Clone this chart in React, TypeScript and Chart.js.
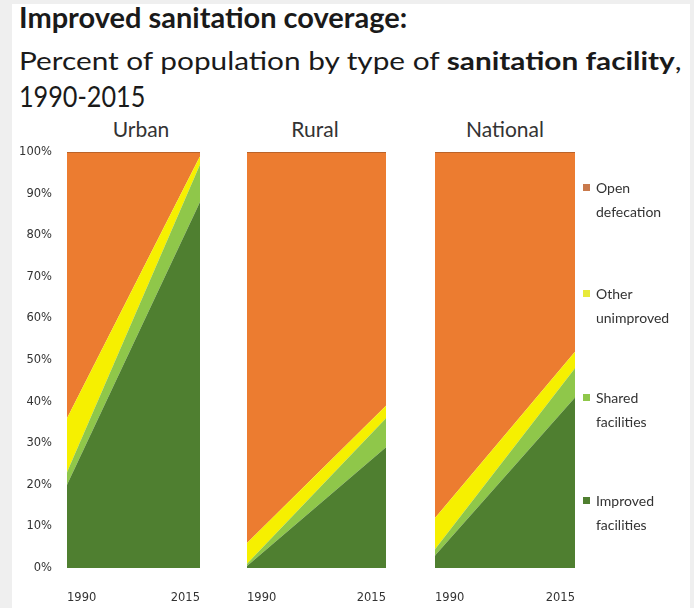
import React, { useEffect, useRef } from "react";
import { Chart, registerables } from "chart.js";

Chart.register(...registerables);

const panels = ["Urban", "Rural", "National"];
const years = ["1990", "2015"];
const seriesNames = ["Improved facilities", "Shared facilities", "Other unimproved", "Open defecation"];
const legendLines = [["Open", "defecation"], ["Other", "unimproved"], ["Shared", "facilities"], ["Improved", "facilities"]];
const improved = [[20, 88], [0.5, 29], [3, 41]];
const shared = [[3, 9], [0.5, 7], [1.5, 7]];
const otherUnimproved = [[13, 2], [5, 3], [7.5, 4]];
const openDefecation = [[64, 1], [94, 61], [88, 48]];
const yTicks = [0, 10, 20, 30, 40, 50, 60, 70, 80, 90, 100];

const colors = ["#4f7f30", "#8fc74a", "#f6f000", "#ec7c30"];
const legendColors = ["#c97a4c", "#e8ea3a", "#8fc74a", "#4f7f30"];
const FONT = "Lato, 'Open Sans', sans-serif";
const TICK_FONT = "'DejaVu Sans', sans-serif";

type PanelProps = { idx: number; left: number; width: number; padL: number; padR: number; showY: boolean };

function Panel({ idx, left, width, padL, padR, showY }: PanelProps) {
  const ref = useRef<HTMLCanvasElement | null>(null);
  useEffect(() => {
    if (!ref.current) return;
    const seriesData = [improved[idx], shared[idx], otherUnimproved[idx], openDefecation[idx]];
    const chart = new Chart(ref.current, {
      type: "line",
      data: {
        labels: years,
        datasets: seriesData.map((d, i) => ({
          label: seriesNames[i],
          data: d,
          backgroundColor: colors[i],
          borderColor: i === 3 ? "#8a4a22" : colors[i],
          borderWidth: i === 3 ? 1 : 0,
          pointRadius: 0,
          fill: i === 0 ? "origin" : "-1",
          tension: 0,
        })),
      },
      options: {
        animation: false,
        responsive: false,
        maintainAspectRatio: false,
        layout: { padding: { left: padL, right: padR, top: 12, bottom: 0 } },
        plugins: { legend: { display: false }, tooltip: { enabled: false }, title: { display: false } },
        scales: {
          x: {
            type: "category",
            offset: false,
            grid: { display: false, drawTicks: false },
            border: { display: false },
            afterFit: (s: any) => {
              s.height = 40;
              s.paddingLeft = 0;
              s.paddingRight = 0;
            },
            ticks: { align: "inner", padding: 23, color: "#333", font: { family: TICK_FONT, size: 11.5 }, maxRotation: 0 },
          },
          y: {
            stacked: true,
            display: showY,
            min: 0,
            max: 100,
            grid: { display: false, drawTicks: false },
            border: { display: false },
            afterFit: (s: any) => {
              if (showY) s.width = 67;
              s.paddingTop = 0;
              s.paddingBottom = 0;
            },
            afterBuildTicks: (s: any) => { s.ticks = yTicks.map((v) => ({ value: v })); },
            ticks: {
              padding: 15,
              color: "#333",
              font: { family: TICK_FONT, size: 11.5 },
              callback: (v: any) => v + "%",
            },
          },
        },
      },
    });
    return () => chart.destroy();
  }, [idx, padL, padR, showY]);
  return (
    <canvas
      ref={ref}
      width={width}
      height={468}
      style={{ position: "absolute", left, top: 140, width, height: 468 }}
    />
  );
}

const panelCenters = [141, 315, 505];
const legendTops = [176, 282, 386, 489];

const titleStyle = (top: number, size: number, scale: number): React.CSSProperties => ({
  position: "absolute",
  left: 19,
  top,
  fontSize: size,
  lineHeight: 1.2,
  color: "#1a1a1a",
  whiteSpace: "nowrap",
  transform: `scaleX(${scale})`,
  transformOrigin: "0 0",
});

export default function App() {
  return (
    <div style={{ position: "fixed", left: 0, top: 0, width: 694, height: 608, background: "#efefef", overflow: "hidden", fontFamily: FONT }}>
      <div style={{ position: "absolute", left: 12, top: 4, width: 678, height: 604, background: "#fff" }} />
      <div style={{ ...titleStyle(0.5, 28, 1.035), fontWeight: 700 }}>Improved sanitation coverage:</div>
      <div style={titleStyle(45.3, 25, 1.19)}>
        Percent of population by type of <b>sanitation facility</b>,
      </div>
      <div style={titleStyle(79.5, 28, 0.9)}>1990-2015</div>
      {panels.map((p, i) => (
        <div key={p} style={{ position: "absolute", left: panelCenters[i] - 70, width: 140, top: 116.3, textAlign: "center", fontSize: 21, color: "#333", lineHeight: 1.2 }}>
          {p}
        </div>
      ))}
      <Panel idx={0} left={0} width={210} padL={0} padR={10} showY={true} />
      <Panel idx={1} left={237} width={159} padL={10} padR={10} showY={false} />
      <Panel idx={2} left={425} width={160} padL={10} padR={10} showY={false} />
      {legendLines.map((lines, i) => (
        <div key={i} style={{ position: "absolute", left: 583, top: legendTops[i], fontSize: 14, color: "#333", lineHeight: "24px" }}>
          <span style={{ position: "absolute", left: 0, top: 8, width: 7, height: 7, background: legendColors[i] }} />
          <div style={{ marginLeft: 13 }}>
            {lines[0]}
            <br />
            {lines[1]}
          </div>
        </div>
      ))}
    </div>
  );
}
